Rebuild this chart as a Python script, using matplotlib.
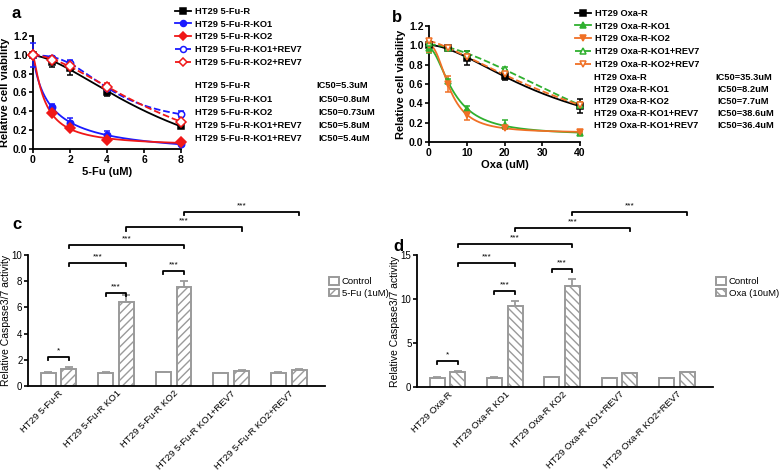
import numpy as np
import matplotlib
matplotlib.use("Agg")
import matplotlib.pyplot as plt
from matplotlib.lines import Line2D
import matplotlib.transforms as mtransforms

plt.rcParams["font.family"] = ["Liberation Sans", "DejaVu Sans"]
plt.rcParams["hatch.linewidth"] = 1.0

W, H = 783, 472

# ---- panel a: 5-Fu viability ----
fu_dose = [0, 1, 2, 4, 8]
fu_names = ["HT29 5-Fu-R", "HT29 5-Fu-R-KO1", "HT29 5-Fu-R-KO2",
            "HT29 5-Fu-R-KO1+REV7", "HT29 5-Fu-R-KO2+REV7"]
fu_r = [1.0, 0.92, 0.86, 0.61, 0.24]
fu_r_err = [0.03, 0.05, 0.07, 0.05, 0.02]
fu_ko1 = [1.0, 0.45, 0.28, 0.15, 0.05]
fu_ko1_err = [0.13, 0.03, 0.05, 0.04, 0.01]
fu_ko2 = [1.0, 0.38, 0.22, 0.10, 0.07]
fu_ko2_err = [0.02, 0.02, 0.02, 0.02, 0.01]
fu_ko1_rev = [1.0, 0.97, 0.91, 0.65, 0.37]
fu_ko1_rev_err = [0.02, 0.02, 0.03, 0.04, 0.03]
fu_ko2_rev = [1.0, 0.95, 0.88, 0.66, 0.29]
fu_ko2_rev_err = [0.02, 0.02, 0.03, 0.04, 0.02]
fu_ic50 = ["IC50=5.3uM", "IC50=0.8uM", "IC50=0.73uM", "IC50=5.8uM", "IC50=5.4uM"]
fu_ic50_names = ["HT29 5-Fu-R", "HT29 5-Fu-R-KO1", "HT29 5-Fu-R-KO2",
                 "HT29 5-Fu-R-KO1+REV7", "HT29 5-Fu-R-KO1+REV7"]

# ---- panel b: Oxa viability ----
oxa_dose = [0, 5, 10, 20, 40]
oxa_names = ["HT29 Oxa-R", "HT29 Oxa-R-KO1", "HT29 Oxa-R-KO2",
             "HT29 Oxa-R-KO1+REV7", "HT29 Oxa-R-KO2+REV7"]
oxa_r = [1.0, 0.97, 0.87, 0.68, 0.37]
oxa_r_err = [0.02, 0.02, 0.07, 0.04, 0.07]
oxa_ko1 = [0.97, 0.63, 0.34, 0.18, 0.09]
oxa_ko1_err = [0.05, 0.02, 0.03, 0.05, 0.02]
oxa_ko2 = [1.0, 0.60, 0.28, 0.15, 0.10]
oxa_ko2_err = [0.07, 0.08, 0.05, 0.02, 0.01]
oxa_ko1_rev = [1.02, 0.97, 0.91, 0.76, 0.38]
oxa_ko1_rev_err = [0.02, 0.02, 0.03, 0.02, 0.03]
oxa_ko2_rev = [1.05, 0.97, 0.88, 0.70, 0.38]
oxa_ko2_rev_err = [0.02, 0.02, 0.03, 0.03, 0.03]
oxa_ic50 = ["IC50=35.3uM", "IC50=8.2uM", "IC50=7.7uM", "IC50=38.6uM", "IC50=36.4uM"]
oxa_ic50_names = ["HT29 Oxa-R", "HT29 Oxa-R-KO1", "HT29 Oxa-R-KO2",
                  "HT29 Oxa-R-KO1+REV7", "HT29 Oxa-R-KO1+REV7"]

# ---- panels c, d: caspase activity ----
fu_groups = ["HT29 5-Fu-R", "HT29 5-Fu-R KO1", "HT29 5-Fu-R KO2",
             "HT29 5-Fu-R KO1+REV7", "HT29 5-Fu-R KO2+REV7"]
fu_ctrl = [1.0, 1.0, 1.05, 0.98, 1.0]
fu_ctrl_err = [0.06, 0.04, 0.04, 0.03, 0.04]
fu_treat = [1.3, 6.45, 7.55, 1.15, 1.2]
fu_treat_err = [0.12, 0.5, 0.5, 0.06, 0.06]

oxa_groups = ["HT29 Oxa-R", "HT29 Oxa-R KO1", "HT29 Oxa-R KO2",
              "HT29 Oxa-R KO1+REV7", "HT29 Oxa-R KO2+REV7"]
oxa_ctrl = [1.0, 1.05, 1.1, 1.0, 1.0]
oxa_ctrl_err = [0.1, 0.06, 0.06, 0.04, 0.06]
oxa_treat = [1.65, 9.15, 11.45, 1.55, 1.65]
oxa_treat_err = [0.12, 0.6, 0.85, 0.07, 0.05]

# significance brackets: (bar i, bar j, height, label); bars: 2*group + (0 ctrl, 1 treat)
fu_sig = [(0, 1, 2.2, "*"), (2, 3, 7.1, "***"), (4, 5, 8.8, "***"),
          (1, 3, 9.4, "***"), (1, 5, 10.8, "***"), (3, 7, 12.1, "***"), (5, 9, 13.3, "***")]
oxa_sig = [(0, 1, 3.0, "*"), (2, 3, 10.9, "***"), (4, 5, 13.4, "***"),
           (1, 3, 14.1, "***"), (1, 5, 16.25, "***"), (3, 7, 18.1, "***"), (5, 9, 19.9, "***")]


def fit_4pl(x, y):
    # simple grid search 4PL fit, bottom/top solved linearly
    x = np.asarray(x, float)
    y = np.asarray(y, float)
    best = None
    for c in np.linspace(x.max() * 0.03, x.max() * 1.5, 300):
        for h in np.linspace(0.8, 4.0, 65):
            g = 1.0 / (1.0 + (x / c) ** h)
            A = np.column_stack([np.ones_like(x), g])
            coef, *_ = np.linalg.lstsq(A, y, rcond=None)
            sse = np.sum((A @ coef - y) ** 2)
            if best is None or sse < best[0]:
                best = (sse, c, h, coef)
    _, c, h, coef = best
    return lambda t: coef[0] + coef[1] / (1.0 + (t / c) ** h)


def px_axes(l, t, r, b):
    return fig.add_axes([l / W, 1 - b / H, (r - l) / W, (b - t) / H])


def style_axes(ax, bold=True, size=7.5):
    for s in ["top", "right"]:
        ax.spines[s].set_visible(False)
    for s in ["left", "bottom"]:
        ax.spines[s].set_linewidth(1.3)
    ax.tick_params(width=1.2, length=3, labelsize=size, pad=1)
    if bold:
        for lbl in ax.get_xticklabels() + ax.get_yticklabels():
            lbl.set_fontweight("bold")


fig = plt.figure(figsize=(W / 100, H / 100), dpi=100)

BLUE = "#1a1aff"
RED = "#f01818"
GREEN = "#2fb02f"
ORANGE = "#f07025"
LEG_FS = 6.7


def curve_panel(ax, dose, series, errs, styles, xticks):
    xs = np.linspace(0, max(dose), 300)
    handles = []
    for y, e, (col, mk, filled, ls) in zip(series, errs, styles):
        f = fit_4pl(dose, y)
        ax.plot(xs, f(xs), color=col, lw=1.3, ls=ls, zorder=2)
        ax.errorbar(dose, y, yerr=e, fmt="none", ecolor=col, elinewidth=1.1,
                    capsize=2.5, capthick=1.1, zorder=3, clip_on=False)
        ax.plot(dose, y, ls="none", marker=mk, ms=4.6, color=col,
                mfc=col if filled else "white", mew=1.1, zorder=4, clip_on=False)
        handles.append(Line2D([], [], color=col, ls=ls, lw=1.3, marker=mk, ms=4.3,
                              mfc=col if filled else "white", mew=1.1))
    ax.set_ylim(0, 1.2)
    ax.set_xlim(0, max(dose))
    ax.set_yticks(np.arange(0, 1.21, 0.2))
    ax.set_yticklabels([f"{v:.1f}" for v in np.arange(0, 1.21, 0.2)])
    ax.set_xticks(xticks)
    style_axes(ax)
    ax.set_ylabel("Relative cell viability", fontsize=8, fontweight="bold", labelpad=2)
    return handles


def curve_legend(handles, names, x, y):
    fig.legend(handles, names, loc="upper left", bbox_to_anchor=(x / W, 1 - y / H),
               frameon=False, handlelength=1.7, handletextpad=0.45, labelspacing=0.4,
               borderpad=0, borderaxespad=0, prop={"size": LEG_FS, "weight": "bold"})


def ic50_block(names, values, x_name, x_val, y0, dy):
    for i, (n, v) in enumerate(zip(names, values)):
        y = 1 - (y0 + i * dy) / H
        fig.text(x_name / W, y, n, fontsize=LEG_FS, fontweight="bold", va="center")
        fig.text((x_val + (0 if i == 0 else 2)) / W, y, v, fontsize=LEG_FS,
                 fontweight="bold", va="center")


# panel a
ax_a = px_axes(33, 36, 181, 149)
h_a = curve_panel(ax_a, fu_dose,
                  [fu_r, fu_ko1, fu_ko2, fu_ko1_rev, fu_ko2_rev],
                  [fu_r_err, fu_ko1_err, fu_ko2_err, fu_ko1_rev_err, fu_ko2_rev_err],
                  [("black", "s", True, "-"), (BLUE, "o", True, "-"), (RED, "D", True, "-"),
                   (BLUE, "o", False, "--"), (RED, "D", False, "--")],
                  [0, 2, 4, 6, 8])
ax_a.set_xlabel("5-Fu (uM)", fontsize=8, fontweight="bold", labelpad=2)
curve_legend(h_a, fu_names, 175, 7)
ic50_block(fu_ic50_names, fu_ic50, 195, 316, 86, 13.2)
fig.text(12 / W, 1 - 14 / H, "a", fontsize=12, fontweight="bold", va="center")

# panel b
ax_b = px_axes(429, 26, 580, 142)
h_b = curve_panel(ax_b, oxa_dose,
                  [oxa_r, oxa_ko1, oxa_ko2, oxa_ko1_rev, oxa_ko2_rev],
                  [oxa_r_err, oxa_ko1_err, oxa_ko2_err, oxa_ko1_rev_err, oxa_ko2_rev_err],
                  [("black", "s", True, "-"), (GREEN, "^", True, "-"), (ORANGE, "v", True, "-"),
                   (GREEN, "^", False, "--"), (ORANGE, "v", False, "--")],
                  [0, 10, 20, 30, 40])
ax_b.set_xlabel("Oxa (uM)", fontsize=8, fontweight="bold", labelpad=2)
curve_legend(h_b, oxa_names, 575, 9)
ic50_block(oxa_ic50_names, oxa_ic50, 594, 715, 77, 12.2)
fig.text(392 / W, 1 - 17 / H, "b", fontsize=12, fontweight="bold", va="center")

GRAY = "#9a9a9a"


def bar_panel(ax, groups, ctrl, ctrl_err, treat, treat_err, hatch, ymax, yticks, sig,
              leg_label, leg_xy):
    x = np.arange(len(groups))
    off, bw = 0.18, 0.26
    b1 = ax.bar(x - off, ctrl, bw, color="white", edgecolor=GRAY, lw=1.4, zorder=2,
                label="Control")
    b2 = ax.bar(x + off, treat, bw, color="white", edgecolor=GRAY, lw=1.4, hatch=hatch,
                zorder=2, label=leg_label)
    zeros = np.zeros(len(groups))
    ax.errorbar(x - off, ctrl, yerr=[zeros, ctrl_err], fmt="none", ecolor=GRAY,
                elinewidth=1.3, capsize=3, capthick=1.3, zorder=1)
    ax.errorbar(x + off, treat, yerr=[zeros, treat_err], fmt="none", ecolor=GRAY,
                elinewidth=1.3, capsize=3, capthick=1.3, zorder=1)
    ax.set_xlim(-0.53, len(groups) - 0.37)
    ax.set_ylim(0, ymax)
    ax.set_yticks(yticks)
    ax.set_xticks(x)
    ax.set_xticklabels(groups, rotation=45, ha="right", va="top", rotation_mode="anchor",
                       fontsize=6.8)
    shift = mtransforms.ScaledTranslation(4 / 100, 0, fig.dpi_scale_trans)
    for lbl in ax.get_xticklabels():
        lbl.set_transform(lbl.get_transform() + shift)
    style_axes(ax, bold=False, size=7)
    ax.tick_params(axis="x", length=0, pad=2, labelsize=6.8)
    ax.set_ylabel("Relative Caspase3/7 activity", fontsize=7.5, labelpad=0.5)
    pos = np.ravel(np.column_stack([x - off, x + off]))
    tick = ymax * 0.025
    for i, j, hgt, lab in sig:
        ax.plot([pos[i], pos[i], pos[j], pos[j]], [hgt - tick, hgt, hgt, hgt - tick],
                color="black", lw=1.3, clip_on=False)
        ax.text((pos[i] + pos[j]) / 2, hgt + ymax * 0.02, lab, ha="center", va="bottom",
                fontsize=6, clip_on=False)
    fig.legend([b1, b2], ["Control", leg_label], loc="upper left",
               bbox_to_anchor=(leg_xy[0] / W, 1 - leg_xy[1] / H), frameon=False,
               handlelength=1.1, handleheight=0.9, handletextpad=0.25, labelspacing=0.25,
               borderpad=0, borderaxespad=0, prop={"size": 6.8})


ax_c = px_axes(28, 255, 325, 386)
bar_panel(ax_c, fu_groups, fu_ctrl, fu_ctrl_err, fu_treat, fu_treat_err, "////", 10,
          [0, 2, 4, 6, 8, 10], fu_sig, "5-Fu (1uM)", (329, 277))
fig.text(12 / W, 1 - 225 / H, "c", fontsize=12, fontweight="bold", va="center")

ax_d = px_axes(417, 255, 713, 387)
bar_panel(ax_d, oxa_groups, oxa_ctrl, oxa_ctrl_err, oxa_treat, oxa_treat_err, "\\\\\\\\", 15,
          [0, 5, 10, 15], oxa_sig, "Oxa (10uM)", (716, 277))
fig.text(393 / W, 1 - 246 / H, "d", fontsize=12, fontweight="bold", va="center")

fig.savefig("out.png", dpi=100)
